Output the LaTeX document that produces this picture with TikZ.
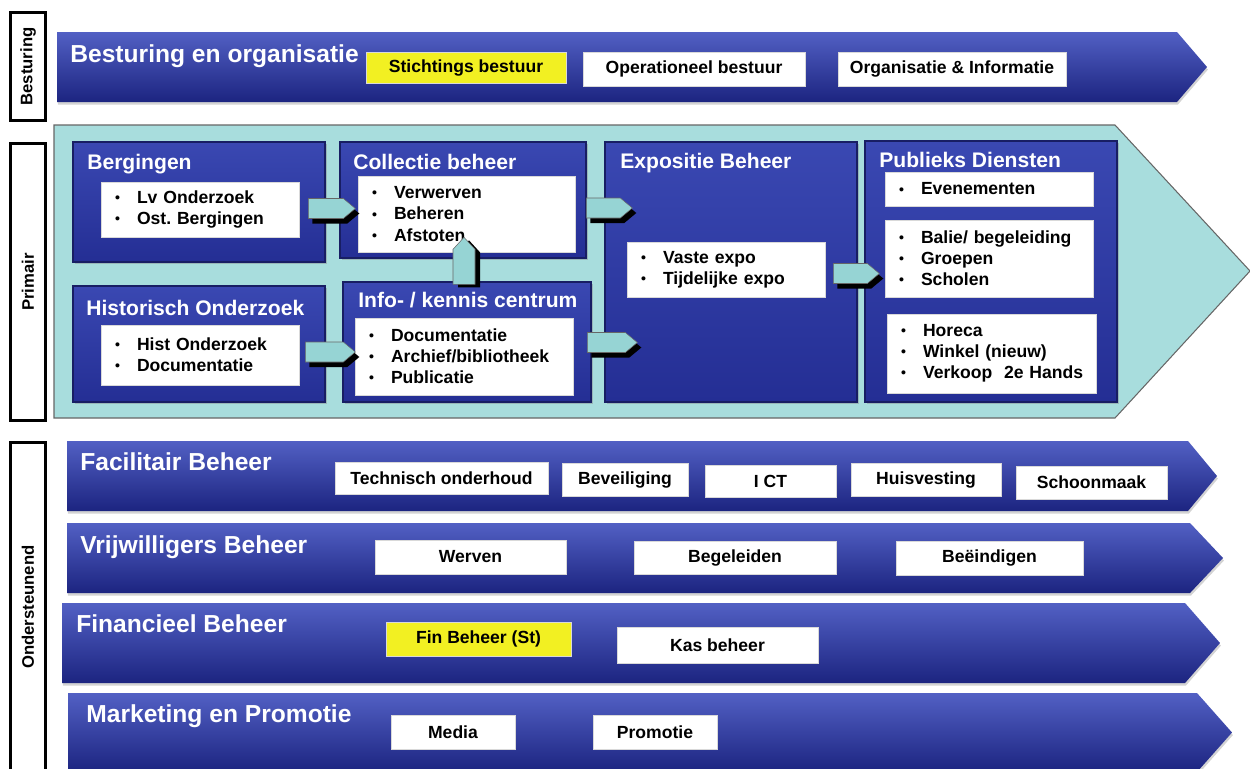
\documentclass[tikz,border=0pt]{standalone}
\usepackage{fontspec}
\setmainfont{Liberation Sans}
\usetikzlibrary{positioning,calc,shadows}
\definecolor{laneTop}{RGB}{82,96,196}
\definecolor{laneMid}{RGB}{40,52,158}
\definecolor{laneBot}{RGB}{28,36,128}
\definecolor{panelTop}{RGB}{58,72,178}
\definecolor{panelBot}{RGB}{36,46,148}
\definecolor{navyEdge}{RGB}{24,30,100}
\definecolor{primCyan}{RGB}{168,221,221}
\definecolor{arrowCyan}{RGB}{150,212,212}
\definecolor{tagYellow}{RGB}{242,240,34}
\frenchspacing
\newcommand{\bul}{\makebox[4.4mm][l]{\raisebox{0.1ex}{\footnotesize\textbullet}}}
\newcommand{\lane}[5]{\path[laneband] (#1,#2) -- (#4,#2) -- (#5,{(#2+#3)/2}) -- (#4,#3) -- (#1,#3) -- cycle;}

\begin{document}
\begin{tikzpicture}[
  x=0.02cm, y=-0.02cm,
  laneband/.style={top color=laneTop, middle color=laneMid, bottom color=laneBot,
    drop shadow={shadow xshift=0.5pt, shadow yshift=-1.5pt, opacity=0.35}},
  panelbox/.style={rectangle, inner sep=0pt, top color=panelTop, bottom color=panelBot,
    draw=navyEdge, line width=0.8pt, drop shadow={shadow xshift=1pt, shadow yshift=-1pt, opacity=0.4}},
  sidebox/.style={rectangle, draw=black, line width=1.7pt, fill=white, rotate=90,
    minimum height=7mm, inner sep=0pt, font=\fontsize{9.5}{11}\selectfont\bfseries},
  lanetitle/.style={anchor=base west, text=white, inner sep=0pt, font=\fontsize{14}{16}\selectfont\bfseries},
  paneltitle/.style={lanetitle, font=\fontsize{12}{14}\selectfont\bfseries},
  tagbox/.style={rectangle, fill=white, draw=black!15, inner sep=0pt, font=\fontsize{10}{12}\selectfont\bfseries},
  bulletbox/.style={tagbox, align=left, inner xsep=2.8mm, text width=#1},
  rarrow/.pic={
    \fill[black, shift={(4,5)}] (0,-10) -- ({#1-12},-10) -- (#1,0) -- ({#1-12},10) -- (0,10) -- cycle;
    \filldraw[fill=arrowCyan, draw=black!60, line width=0.3pt] (0,-10) -- ({#1-12},-10) -- (#1,0) -- ({#1-12},10) -- (0,10) -- cycle;},
  uarrow/.pic={
    \fill[black, shift={(5,3)}] (-11,0) -- (-11,{12-#1}) -- (0,-#1) -- (11,{12-#1}) -- (11,0) -- cycle;
    \filldraw[fill=arrowCyan, draw=black!60, line width=0.3pt] (-11,0) -- (-11,{12-#1}) -- (0,-#1) -- (11,{12-#1}) -- (11,0) -- cycle;}
]
\useasboundingbox (0,0) rectangle (1250,768);

\lane{57}{32}{102}{1177}{1207}
\filldraw[fill=primCyan, draw=black!60, line width=0.6pt] (54,125) -- (1115,125) -- (1250,271) -- (1115,418) -- (54,418) -- cycle;
\lane{67}{441}{511}{1188}{1217}
\lane{67}{523}{593}{1190}{1223}
\lane{62}{603}{683}{1185}{1220}
\lane{68}{693}{772}{1197}{1232}

\node[sidebox, minimum width=21.6mm] (besturing) at (28,66.5) {Besturing};
\node[sidebox, minimum width=55.4mm] (primair) at (28,282) {Primair};
\node[sidebox, minimum width=66mm] (onderst) at (28,607) {Ondersteunend};

\node[lanetitle] (tBest) at (70,62) {Besturing en organisatie};
\node[tagbox, fill=tagYellow, minimum width=40mm, minimum height=6.2mm] (stich) at (466,67.5) {Stichtings bestuur};
\node[tagbox, minimum width=44.4mm, minimum height=6.8mm] (oper) at (694,69) {Operationeel bestuur};
\node[tagbox, minimum width=45.6mm, minimum height=6.8mm] (orga) at (952,69) {Organisatie \& Informatie};

\node[panelbox, minimum width=50.4mm, minimum height=24mm] (berg) at (199,202) {};
\node[panelbox, minimum width=50.4mm, minimum height=23.2mm] (hist) at (199,344) {};
\node[panelbox, minimum width=49.2mm, minimum height=23.2mm] (coll) at (463,200) {};
\node[panelbox, minimum width=49.6mm, minimum height=24mm] (info) at (467,342) {};
\node[panelbox, minimum width=50.4mm, minimum height=52mm] (expo) at (731,272) {};
\node[panelbox, minimum width=50.4mm, minimum height=52.2mm] (publ) at (991,271.5) {};

\node[paneltitle] (tBerg) at (87,169) {Bergingen};
\node[paneltitle] (tHist) at (86,315) {Historisch Onderzoek};
\node[paneltitle] (tColl) at (353,169) {Collectie beheer};
\node[paneltitle] (tInfo) at (358,307) {Info- / kennis centrum};
\node[paneltitle] (tExpo) at (620,168) {Expositie Beheer};
\node[paneltitle] (tPubl) at (879,167) {Publieks Diensten};

\node[bulletbox=34mm, minimum height=11mm] (bergList) at (200,209.5) {\bul Lv Onderzoek\\\bul Ost. Bergingen};
\node[bulletbox=34mm, minimum height=12mm] (histList) at (200,355) {\bul Hist Onderzoek\\\bul Documentatie};
\node[bulletbox=37.8mm, minimum height=15.2mm] (collList) at (466.5,214) {\bul Verwerven\\\bul Beheren\\\bul Afstoten};
\node[bulletbox=38mm, minimum height=15.4mm] (infoList) at (464,356.5) {\bul Documentatie\\\bul Archief/bibliotheek\\\bul Publicatie};
\node[bulletbox=34mm, minimum height=11mm] (expoList) at (726,269.5) {\bul Vaste expo\\\bul Tijdelijke expo};
\node[bulletbox=36mm, minimum height=6.8mm] (evenList) at (989,189) {\bul Evenementen};
\node[bulletbox=36mm, minimum height=15.4mm] (balieList) at (989,258.5) {\bul Balie/ begeleiding\\\bul Groepen\\\bul Scholen};
\node[bulletbox=36.2mm, minimum height=15.8mm] (horecaList) at (991.5,353.5) {\bul Horeca\\\bul Winkel (nieuw)\\\mbox{\bul Verkoop~ 2e Hands}};

\pic at ($(bergList.east)+(9,-1)$) {rarrow=47};
\pic at ($(collList.east)+(11,-6)$) {rarrow=46};
\pic at ($(histList.east)+(6,-3)$) {rarrow=50};
\pic at ($(infoList.east)+(14,-14)$) {rarrow=50};
\pic at ($(expoList.east)+(8,4)$) {rarrow=46};
\pic at ($(info.north)+(-3,3)$) {uarrow=47};

\node[lanetitle] (tFac) at (80,470) {Facilitair Beheer};
\node[tagbox, minimum width=42.6mm, minimum height=6.4mm] (techn) at (441.5,478) {Technisch onderhoud};
\node[tagbox, minimum width=25.2mm, minimum height=6.6mm] (bevei) at (625,479.5) {Beveiliging};
\node[tagbox, minimum width=26.2mm, minimum height=6.4mm] (ict) at (770.5,481) {I CT};
\node[tagbox, minimum width=30mm, minimum height=6.6mm] (huisv) at (926,479.5) {Huisvesting};
\node[tagbox, minimum width=30.2mm, minimum height=6.6mm] (schoon) at (1091.5,482.5) {Schoonmaak};

\node[lanetitle] (tVrij) at (80,553) {Vrijwilligers Beheer};
\node[tagbox, minimum width=38.2mm, minimum height=6.8mm] (werven) at (470.5,557) {Werven};
\node[tagbox, minimum width=40.4mm, minimum height=6.6mm] (begel) at (735,557.5) {Begeleiden};
\node[tagbox, minimum width=37.4mm, minimum height=6.8mm] (beeind) at (989.5,558) {Beëindigen};

\node[lanetitle] (tFin) at (76,632) {Financieel Beheer};
\node[tagbox, fill=tagYellow, minimum width=37mm, minimum height=6.8mm] (finst) at (478.5,639) {Fin Beheer (St)};
\node[tagbox, minimum width=40.2mm, minimum height=7.2mm] (kas) at (717.5,645) {Kas beheer};

\node[lanetitle] (tMark) at (86,722) {Marketing en Promotie};
\node[tagbox, minimum width=24.8mm, minimum height=6.8mm] (media) at (453,732) {Media};
\node[tagbox, minimum width=24.8mm, minimum height=6.8mm] (promo) at (655,732) {Promotie};
\end{tikzpicture}
\end{document}
